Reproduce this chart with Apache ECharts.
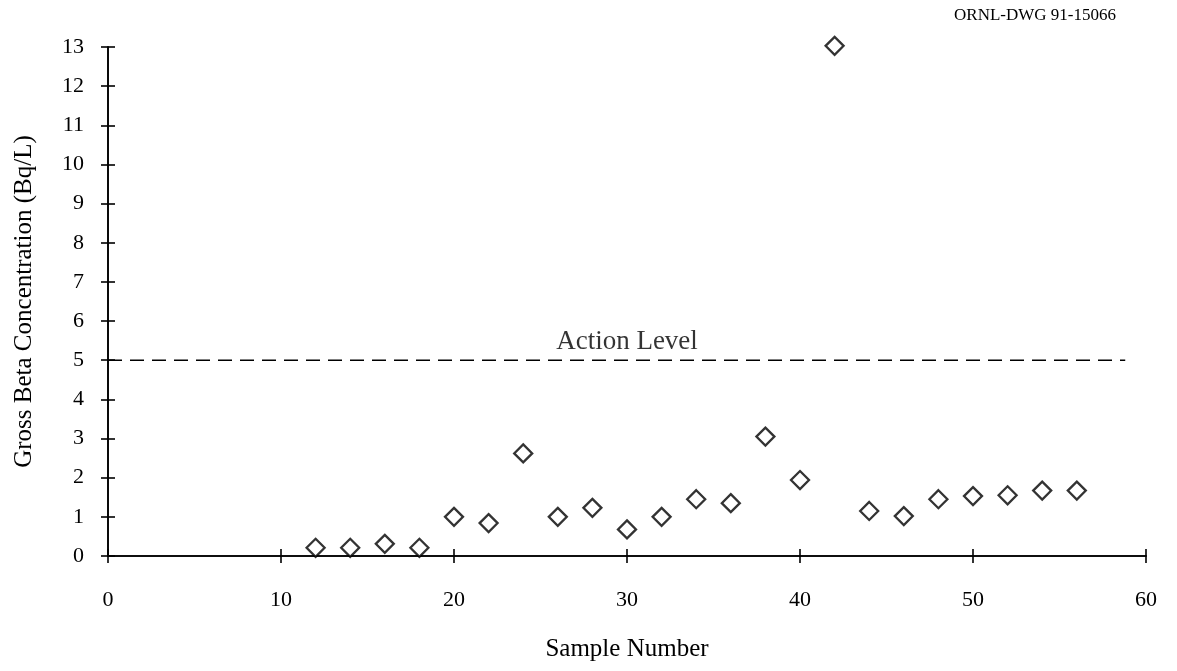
<!DOCTYPE html>
<html>
<head>
<meta charset="utf-8">
<script src="https://cdn.jsdelivr.net/npm/echarts@6/dist/echarts.min.js"></script>
<style>
  html, body { margin: 0; padding: 0; background: #fff; }
  #chart { width: 1177px; height: 671px; }
</style>
</head>
<body>
<div id="chart"></div>
<script>
// Gross beta concentration per sample
const sampleNumbers = [12, 14, 16, 18, 20, 22, 24, 26, 28, 30, 32, 34, 36, 38, 40, 42, 44, 46, 48, 50, 52, 54, 56];
const grossBeta = [0.21, 0.21, 0.31, 0.21, 1.0, 0.84, 2.62, 1.0, 1.23, 0.68, 1.0, 1.45, 1.35, 3.05, 1.94, 13.03, 1.15, 1.02, 1.45, 1.53, 1.55, 1.67, 1.67];

// Action level reference line
const actionLevel = 5;
const actionLevelSpan = [0, 58.8];
const actionLevelText = 'Action Level';

// Axis settings
const xRange = [0, 60];
const xStep = 10;
const yRange = [0, 13];
const yStep = 1;
const xTitle = 'Sample Number';
const yTitle = 'Gross Beta Concentration (Bq/L)';
const drawingId = 'ORNL-DWG 91-15066';

const FONT = '"Liberation Serif", "Times New Roman", serif';
const INK = '#000';

const points = sampleNumbers.map((s, i) => [s, grossBeta[i]]);
const levelLine = actionLevelSpan.map(x => [x, actionLevel]);
const levelLabelPos = [[(xRange[0] + xRange[1]) / 2, actionLevel]];

function xAxisDef(inside, show) {
  return {
    type: 'value', min: xRange[0], max: xRange[1], interval: xStep,
    position: 'bottom',
    axisLine: { show: true, onZero: false, lineStyle: { color: INK, width: 1.6 } },
    axisTick: { show: true, inside: inside, length: 7, lineStyle: { color: INK, width: 1.6 } },
    axisLabel: { show: show, color: INK, fontFamily: FONT, fontSize: 22, margin: 33 },
    splitLine: { show: false },
    name: show ? xTitle : '', nameLocation: 'middle', nameGap: 81,
    nameTextStyle: { color: INK, fontFamily: FONT, fontSize: 25 }
  };
}
function yAxisDef(inside, show) {
  return {
    type: 'value', min: yRange[0], max: yRange[1], interval: yStep,
    position: 'left',
    axisLine: { show: true, onZero: false, lineStyle: { color: INK, width: 1.6 } },
    axisTick: { show: true, inside: inside, length: 7, lineStyle: { color: INK, width: 1.6 } },
    axisLabel: { show: show, color: INK, fontFamily: FONT, fontSize: 22, margin: 24 },
    splitLine: { show: false },
    name: show ? yTitle : '', nameLocation: 'middle', nameGap: 71, nameRotate: 90,
    nameTextStyle: { color: INK, fontFamily: FONT, fontSize: 25 }
  };
}

const chart = echarts.init(document.getElementById('chart'), null, { renderer: 'canvas' });
chart.setOption({
  backgroundColor: '#fff',
  animation: false,
  title: {
    text: drawingId, right: 56, top: 2,
    textStyle: { color: INK, fontFamily: FONT, fontSize: 17, fontWeight: 'normal' }
  },
  grid: { left: 108, right: 31, top: 47, bottom: 115, containLabel: false },
  xAxis: [xAxisDef(false, true), xAxisDef(true, false)],
  yAxis: [yAxisDef(false, true), yAxisDef(true, false)],
  series: [
    {
      type: 'line', data: levelLine, symbol: 'none', silent: true,
      lineStyle: { color: INK, width: 1.4, type: [14, 8] }
    },
    {
      type: 'scatter', data: levelLabelPos, symbolSize: 0, silent: true,
      label: {
        show: true, position: 'top', distance: 5, formatter: actionLevelText,
        color: INK, fontFamily: FONT, fontSize: 27
      }
    },
    {
      type: 'scatter', data: points, symbol: 'diamond', symbolSize: 18, clip: false,
      itemStyle: { color: '#fff', borderColor: INK, borderWidth: 2.3 }
    }
  ]
});
</script>
</body>
</html>
